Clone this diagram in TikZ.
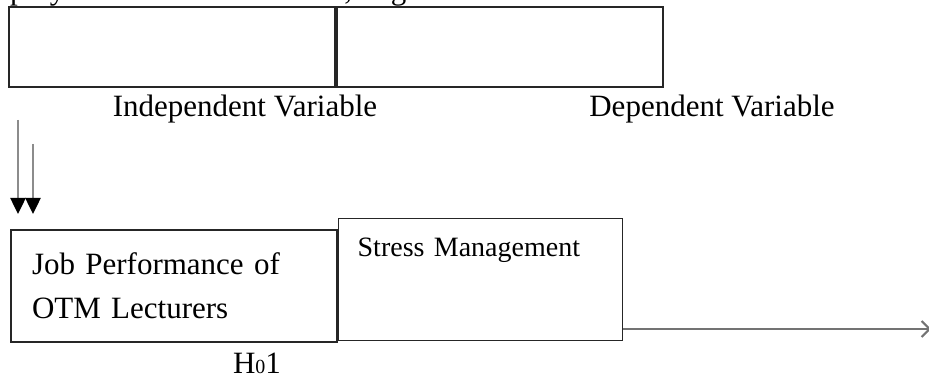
\documentclass[tikz,border=0pt]{standalone}
\usepackage{fontspec}
\setmainfont{Liberation Serif}
\usepackage{tikz}
\usetikzlibrary{arrows.meta}

\begin{document}
\begin{tikzpicture}[x=1pt,y=-1pt,
  box/.style={draw=black!85,line width=1.3pt,inner sep=0pt},
  lbl/.style={font=\fontsize{31}{31}\selectfont},
  down/.style={draw=black!45,line width=2.5pt,-{Triangle[width=15pt,length=16pt,color=black]}},
  outarr/.style={draw=black!55,line width=2pt,-{Straight Barb[length=8pt,width=16pt]}}]
\useasboundingbox (0,0) rectangle (929,379);
% clipped line of text above the figure
\node[lbl,anchor=base west,inner sep=0pt](top)at(10,0){polytechnic in South-south, Nigeria.};
% empty boxes and their captions
\node[box,minimum width=326pt,minimum height=80pt](ivbox)at(172,47){};
\node[box,minimum width=326pt,minimum height=80pt](dvbox)at(500,47){};
\node[lbl,anchor=base](iv)at(245,117){Independent Variable};
\node[lbl,anchor=base](dv)at(712,117){Dependent Variable};
% double arrow down
\coordinate(s1)at(18,120); \coordinate(e1)at(18,214);
\coordinate(s2)at(33,144); \coordinate(e2)at(33,214);
\draw[down](s1)--(e1);
\draw[down](s2)--(e2);
% variable boxes
\node[box,minimum width=326pt,minimum height=112pt,inner xsep=21pt,text width=284pt,align=left,
      font=\fontsize{31}{44}\selectfont](perf)at(174,286){Job Performance of\\OTM Lecturers};
\node[box,anchor=north west,inner xsep=19pt,inner ysep=10pt,text width=246pt,align=left,
      text height=28pt,text depth=74pt,font=\fontsize{28}{28}\selectfont](stress)at(338,218){Stress Management};
\node[lbl,anchor=base](hyp)at(257,373){H\raisebox{-1pt}{\fontsize{20}{20}\selectfont 0}1};
\coordinate(out)at(931,329);
\draw[outarr](stress.east |- out)--(out);
\end{tikzpicture}
\end{document}
